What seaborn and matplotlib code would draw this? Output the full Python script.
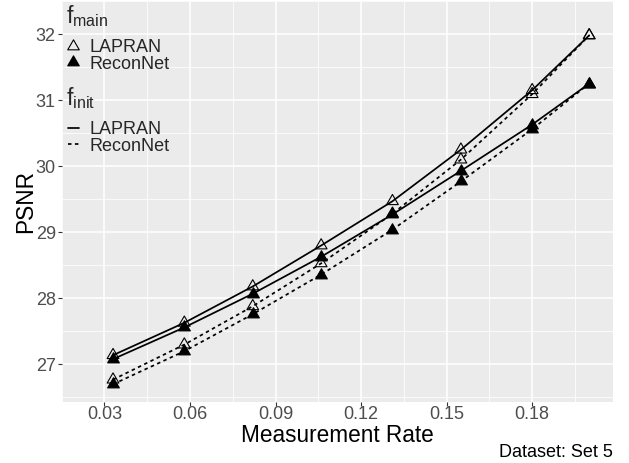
import numpy as np
import pandas as pd
import matplotlib
matplotlib.use("Agg")
import matplotlib.pyplot as plt
from matplotlib.lines import Line2D
from matplotlib.path import Path
import seaborn as sns

# measurement rates (x) and PSNR for each f_main / f_init combination
rate = [0.033, 0.058, 0.082, 0.106, 0.131, 0.155, 0.18, 0.2]
psnr_lapran_lapran = [27.14, 27.63, 28.18, 28.80, 29.47, 30.25, 31.15, 31.98]
psnr_reconnet_lapran = [27.08, 27.56, 28.07, 28.63, 29.27, 29.93, 30.63, 31.25]
psnr_lapran_reconnet = [26.77, 27.30, 27.88, 28.53, 29.28, 30.10, 31.09, 31.98]
psnr_reconnet_reconnet = [26.70, 27.20, 27.76, 28.36, 29.04, 29.77, 30.56, 31.25]

methods = ["LAPRAN", "ReconNet"]
x_ticks = [0.03, 0.06, 0.09, 0.12, 0.15, 0.18]
y_ticks = [27, 28, 29, 30, 31, 32]

series = [
    ("LAPRAN", "LAPRAN", psnr_lapran_lapran),
    ("ReconNet", "LAPRAN", psnr_reconnet_lapran),
    ("LAPRAN", "ReconNet", psnr_lapran_reconnet),
    ("ReconNet", "ReconNet", psnr_reconnet_reconnet),
]
rows = []
for f_main, f_init, vals in series:
    for r, v in zip(rate, vals):
        rows.append({"rate": r, "psnr": v, "main": f_main, "init": f_init})
df = pd.DataFrame(rows)

sns.set_theme(style="darkgrid", rc={
    "axes.facecolor": "#EBEBEB",
    "grid.color": "white",
    "axes.edgecolor": "none",
    "mathtext.fontset": "custom",
    "mathtext.rm": "Liberation Sans",
    "mathtext.it": "Liberation Sans:italic",
})
plt.rcParams["font.family"] = ["Liberation Sans", "DejaVu Sans"]

W, H = 629, 463
fig = plt.figure(figsize=(W / 100, H / 100), dpi=100)
left, right, top, bottom = 61.7, 613.0, 1.0, 401.7
ax = fig.add_axes([left / W, 1 - bottom / H, (right - left) / W, (bottom - top) / H])

# triangle with its centroid on the data point (like R's pch 2 / 17)
tri = Path([(0, 1), (-0.866, -0.5), (0.866, -0.5), (0, 1)], closed=True)

sns.lineplot(data=df, x="rate", y="psnr", style="init", units="main", estimator=None,
             dashes={"LAPRAN": "", "ReconNet": (2, 2)}, color="black", linewidth=1.25,
             legend=False, ax=ax)
for m, fc in zip(methods, ["none", "black"]):
    sns.scatterplot(data=df[df["main"] == m], x="rate", y="psnr", marker=tri, s=95,
                    facecolor=fc, edgecolor="black", linewidth=0.8, legend=False,
                    ax=ax, zorder=3)

# ggplot-like 5% expansion
xr = max(rate) - min(rate)
ax.set_xlim(min(rate) - 0.05 * xr, max(rate) + 0.05 * xr)
all_y = df["psnr"]
yr = all_y.max() - all_y.min()
ax.set_ylim(all_y.min() - 0.05 * yr, all_y.max() + 0.05 * yr)

ax.set_xticks(x_ticks)
ax.set_xticklabels([f"{t:.2f}" for t in x_ticks])
ax.set_yticks(y_ticks)
ax.set_xticks(np.arange(0.015, 0.21, 0.03), minor=True)
ax.set_yticks(np.arange(26.5, 32.6, 1.0), minor=True)
ax.grid(which="major", color="white", linewidth=1.1)
ax.grid(which="minor", color="white", linewidth=0.55)
ax.tick_params(which="major", length=2.75, width=0.8, color="#333333",
               labelsize=13, labelcolor="#4D4D4D", pad=1.5, bottom=True, left=True)
ax.tick_params(axis="x", which="major", pad=0)
ax.tick_params(which="minor", length=0)
for s in ax.spines.values():
    s.set_visible(False)

ax.set_xlabel("Measurement Rate", fontsize=16.3, color="black")
ax.set_ylabel("PSNR", fontsize=16.3, color="black")
ax.xaxis.set_label_coords(0.5, (bottom - 423.5) / (bottom - top))
ax.yaxis.set_label_coords((37.0 - left) / (right - left), 0.5)

# legends (shape = f_main, linetype = f_init)
fig.text(66.5 / W, 1 - 23.3 / H, r"$\mathrm{f}_{\mathrm{main}}$", fontsize=16.5,
         va="baseline", ha="left")
fig.text(66.5 / W, 1 - 105.0 / H, r"$\mathrm{f}_{\mathrm{init}}$", fontsize=16.5,
         va="baseline", ha="left")
shape_handles = [
    Line2D([], [], ls="", marker=tri, ms=9.6, mfc="none", mec="black", mew=0.8),
    Line2D([], [], ls="", marker=tri, ms=9.6, mfc="black", mec="black", mew=0.8),
]
fig.legend(shape_handles, methods, loc="upper left",
           bbox_to_anchor=(65.5 / W, 1 - 39.5 / H), frameon=False, fontsize=13,
           handlelength=0.8, handletextpad=0.55, labelspacing=-0.05,
           borderpad=0, borderaxespad=0)
line_handles = [
    Line2D([], [], color="black", lw=1.25),
    Line2D([], [], color="black", lw=1.25, dashes=(2, 2)),
]
fig.legend(line_handles, methods, loc="upper left",
           bbox_to_anchor=(68 / W, 1 - 121.5 / H), frameon=False, fontsize=13,
           handlelength=0.6, handletextpad=0.6, labelspacing=-0.05,
           borderpad=0, borderaxespad=0)

fig.text(612.7 / W, 1 - 457 / H, "Dataset: Set 5", fontsize=13, ha="right",
         va="baseline", color="black")

fig.savefig("out.png", dpi=100)
